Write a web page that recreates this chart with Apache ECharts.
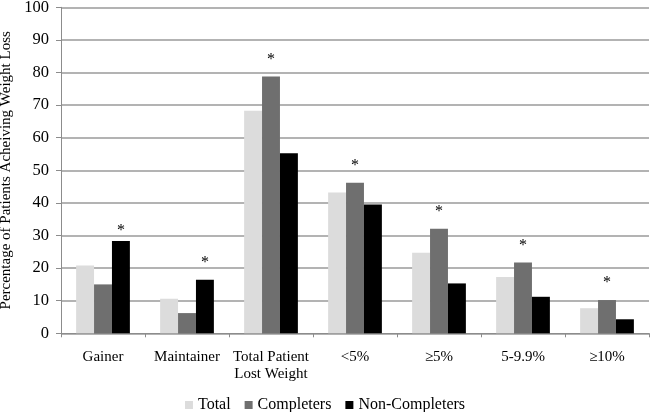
<!DOCTYPE html>
<html>
<head>
<meta charset="utf-8">
<script src="https://cdn.jsdelivr.net/npm/echarts@6/dist/echarts.min.js"></script>
<style>html,body{margin:0;padding:0;background:#fff}#chart{width:650px;height:412px}</style>
</head>
<body>
<div id="chart"></div>
<script>
var categories = ['Gainer', 'Maintainer', 'Total Patient\nLost Weight', '<5%', '\u22655%', '5-9.9%', '\u226510%'];
var totalValues = [20.8, 10.6, 68.3, 43.2, 24.7, 17.3, 7.7];
var completerValues = [15.0, 6.2, 78.8, 46.2, 32.1, 21.7, 10.2];
var nonCompleterValues = [28.3, 16.4, 55.2, 39.5, 15.3, 11.2, 4.3];
var seriesNames = ['Total', 'Completers', 'Non-Completers'];
// which series carries the significance asterisk in each category
var starSeries = [2, 2, 1, 1, 1, 1, 1];
var yTicks = [0, 10, 20, 30, 40, 50, 60, 70, 80, 90, 100];

var FONT = '"Liberation Serif", "Times New Roman", serif';
var colors = ['#dcdcdc', '#6f6f6f', '#000000'];

function buildData(values, sIdx) {
  return values.map(function (v, i) {
    if (starSeries[i] === sIdx) {
      return {
        value: v,
        label: {
          show: true, position: 'top', formatter: '*',
          distance: i === 0 ? 2 : 9,
          fontFamily: FONT, fontSize: 16, color: '#000'
        }
      };
    }
    return v;
  });
}

var chart = echarts.init(document.getElementById('chart'));
chart.setOption({
  animation: false,
  backgroundColor: '#fff',
  color: colors,
  grid: { left: 61, right: 1, top: 7.3, bottom: 78.7, containLabel: false, outerBoundsMode: 'none' },
  legend: {
    data: seriesNames,
    top: 392,
    left: 'center',
    itemWidth: 8,
    itemHeight: 8,
    itemGap: 14,
    icon: 'rect',
    textStyle: { fontFamily: FONT, fontSize: 16, color: '#000' }
  },
  xAxis: {
    type: 'category',
    data: categories,
    axisLine: { lineStyle: { color: '#8c8c8c', width: 1 } },
    axisTick: { show: true, length: 4, alignWithLabel: false, lineStyle: { color: '#8c8c8c' } },
    axisLabel: { interval: 0, margin: 15, fontFamily: FONT, fontSize: 15, color: '#000', lineHeight: 17 }
  },
  yAxis: {
    type: 'value',
    min: yTicks[0],
    max: yTicks[yTicks.length - 1],
    interval: 10,
    name: 'Percentage of Patients Acheiving Weight Loss',
    nameLocation: 'middle',
    nameGap: 38,
    nameTextStyle: { fontFamily: FONT, fontSize: 15, color: '#000' },
    axisLine: { show: true, lineStyle: { color: '#8c8c8c', width: 1 } },
    axisTick: { show: true, length: 5, lineStyle: { color: '#8c8c8c' } },
    axisLabel: { margin: 12, fontFamily: FONT, fontSize: 16.5, color: '#000' },
    splitLine: { lineStyle: { color: '#9a9a9a', width: 1.5 } }
  },
  series: [
    { name: seriesNames[0], type: 'bar', data: buildData(totalValues, 0), barGap: '0%', barCategoryGap: '36%', itemStyle: { color: colors[0] } },
    { name: seriesNames[1], type: 'bar', data: buildData(completerValues, 1), barGap: '0%', barCategoryGap: '36%', itemStyle: { color: colors[1] } },
    { name: seriesNames[2], type: 'bar', data: buildData(nonCompleterValues, 2), barGap: '0%', barCategoryGap: '36%', itemStyle: { color: colors[2] } }
  ]
});
</script>
</body>
</html>
